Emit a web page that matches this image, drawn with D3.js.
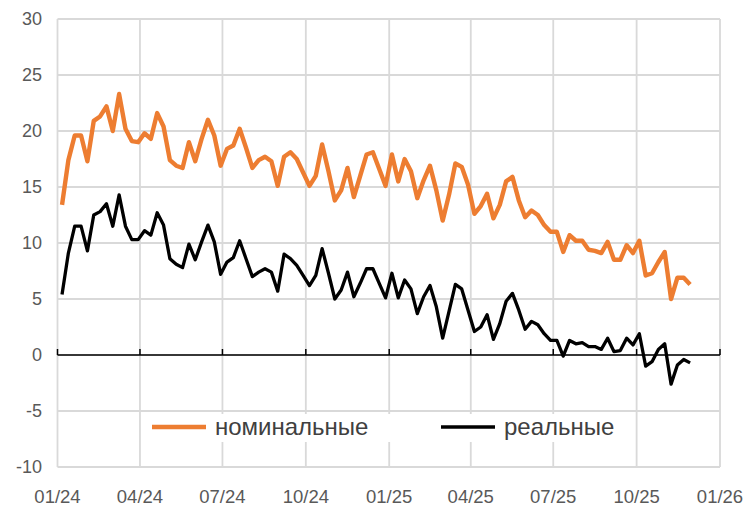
<!DOCTYPE html>
<html>
<head>
<meta charset="utf-8">
<script src="https://cdn.jsdelivr.net/npm/d3@7"></script>
<style>
  body { margin: 0; background: #fff; }
  text { font-family: "Liberation Sans", Arial, sans-serif; }
</style>
</head>
<body>
<svg id="chart"></svg>
<script>
// weekly values, first week of 2024
const nominal = [13.4, 17.4, 19.6, 19.6, 17.3, 20.9, 21.3, 22.2, 20.0, 23.3,
    20.2, 19.1, 19.0, 19.8, 19.3, 21.6, 20.4, 17.4, 16.9, 16.7,
    19.0, 17.3, 19.3, 21.0, 19.6, 16.9, 18.4, 18.7, 20.2, 18.5,
    16.7, 17.4, 17.7, 17.3, 15.1, 17.7, 18.1, 17.5, 16.3, 15.1,
    16.0, 18.8, 16.4, 13.8, 14.7, 16.7, 14.1, 16.0, 17.9, 18.1,
    16.6, 15.1, 17.9, 15.5, 17.5, 16.4, 14.0, 15.6, 16.9, 14.7,
    12.0, 14.3, 17.1, 16.8, 15.2, 12.6, 13.3, 14.4, 12.2, 13.4,
    15.5, 15.9, 13.8, 12.3, 12.9, 12.5, 11.6, 11.0, 11.0, 9.2,
    10.7, 10.2, 10.2, 9.4, 9.3, 9.1, 10.1, 8.5, 8.5, 9.8,
    9.1, 10.2, 7.1, 7.3, 8.3, 9.2, 5.0, 6.9, 6.9, 6.3];
const real = [5.4, 9.1, 11.5, 11.5, 9.3, 12.5, 12.8, 13.5, 11.5, 14.3,
    11.5, 10.3, 10.3, 11.1, 10.7, 12.7, 11.6, 8.6, 8.1, 7.8,
    9.9, 8.5, 10.1, 11.6, 10.1, 7.2, 8.3, 8.7, 10.2, 8.6,
    7.0, 7.4, 7.7, 7.4, 5.7, 9.0, 8.6, 8.0, 7.1, 6.2,
    7.1, 9.5, 7.3, 5.0, 5.8, 7.4, 5.2, 6.4, 7.7, 7.7,
    6.4, 5.1, 7.3, 5.1, 6.7, 5.9, 3.7, 5.2, 6.2, 4.3,
    1.5, 3.9, 6.3, 5.9, 4.0, 2.1, 2.5, 3.6, 1.4, 2.8,
    4.8, 5.5, 4.0, 2.3, 3.0, 2.7, 1.9, 1.3, 1.3, -0.1,
    1.3, 1.0, 1.1, 0.75, 0.75, 0.5, 1.5, 0.3, 0.4, 1.5,
    0.9, 1.9, -1.0, -0.6, 0.5, 1.0, -2.6, -0.9, -0.4, -0.7];
const seriesNames = ["номинальные", "реальные"];
const yTicks = [-10, -5, 0, 5, 10, 15, 20, 25, 30];
const xTickLabels = ["01/24", "04/24", "07/24", "10/24", "01/25", "04/25", "07/25", "10/25", "01/26"];

const width = 751, height = 512;
const margin = {top: 19, right: 31, bottom: 45, left: 57.5};

const svg = d3.select("#chart")
    .attr("width", width)
    .attr("height", height)
    .attr("viewBox", [0, 0, width, height]);

const parseTick = d3.timeParse("%m/%y");
const start = new Date(2024, 0, 6);
const dates = nominal.map((d, i) => d3.timeDay.offset(start, 7 * i));
const tickDates = xTickLabels.map(parseTick);

const x = d3.scaleTime()
    .domain([tickDates[0], tickDates[tickDates.length - 1]])
    .range([margin.left, width - margin.right]);
const y = d3.scaleLinear()
    .domain([-10, 30])
    .range([height - margin.bottom, margin.top]);

// grid
svg.append("g")
    .selectAll("line.h")
    .data(yTicks)
    .join("line")
    .attr("x1", x.range()[0]).attr("x2", x.range()[1])
    .attr("y1", d => y(d)).attr("y2", d => y(d))
    .attr("stroke", "#d9d9d9").attr("stroke-width", 1.8);
svg.append("g")
    .selectAll("line.v")
    .data(tickDates)
    .join("line")
    .attr("x1", d => x(d)).attr("x2", d => x(d))
    .attr("y1", y(30)).attr("y2", y(-10))
    .attr("stroke", "#d9d9d9").attr("stroke-width", 1.8);

// y labels
svg.append("g")
    .selectAll("text")
    .data(yTicks)
    .join("text")
    .attr("x", 42).attr("y", d => y(d))
    .attr("dy", "0.35em")
    .attr("text-anchor", "end")
    .attr("font-size", 18)
    .attr("fill", "#595959")
    .text(d => d);

// x labels
svg.append("g")
    .selectAll("text")
    .data(tickDates)
    .join("text")
    .attr("x", d => x(d)).attr("y", 497)
    .attr("dy", "0.35em")
    .attr("text-anchor", "middle")
    .attr("font-size", 18.5)
    .attr("fill", "#595959")
    .text((d, i) => xTickLabels[i]);

// zero axis with ticks
const axis = svg.append("g");
axis.append("line")
    .attr("x1", x.range()[0]).attr("x2", x.range()[1])
    .attr("y1", y(0)).attr("y2", y(0))
    .attr("stroke", "#000").attr("stroke-width", 1.5);
axis.selectAll("line.tick")
    .data(tickDates)
    .join("line")
    .attr("x1", d => x(d)).attr("x2", d => x(d))
    .attr("y1", y(0)).attr("y2", y(0) - 6)
    .attr("stroke", "#000").attr("stroke-width", 1.5);

// lines
const line = d3.line()
    .x((d, i) => x(dates[i]))
    .y(d => y(d));

svg.append("path")
    .datum(real)
    .attr("d", line)
    .attr("fill", "none")
    .attr("stroke", "#000")
    .attr("stroke-width", 3.3)
    .attr("stroke-linejoin", "round");

svg.append("path")
    .datum(nominal)
    .attr("d", line)
    .attr("fill", "none")
    .attr("stroke", "#ed7d31")
    .attr("stroke-width", 4.4)
    .attr("stroke-linejoin", "round");

// legend
const legend = svg.append("g");
legend.append("rect")
    .attr("x", 145).attr("y", 414)
    .attr("width", 480).attr("height", 28)
    .attr("fill", "#fff");
const legendItems = [
    {name: seriesNames[0], color: "#ed7d31", w: 4.4, x0: 152},
    {name: seriesNames[1], color: "#000", w: 3.3, x0: 441}
];
legendItems.forEach(it => {
    legend.append("line")
        .attr("x1", it.x0).attr("x2", it.x0 + 54)
        .attr("y1", 427).attr("y2", 427)
        .attr("stroke", it.color).attr("stroke-width", it.w);
    legend.append("text")
        .attr("x", it.x0 + 63).attr("y", 427)
        .attr("dy", "0.35em")
        .attr("font-size", 24)
        .attr("fill", "#404040")
        .text(it.name);
});
</script>
</body>
</html>
